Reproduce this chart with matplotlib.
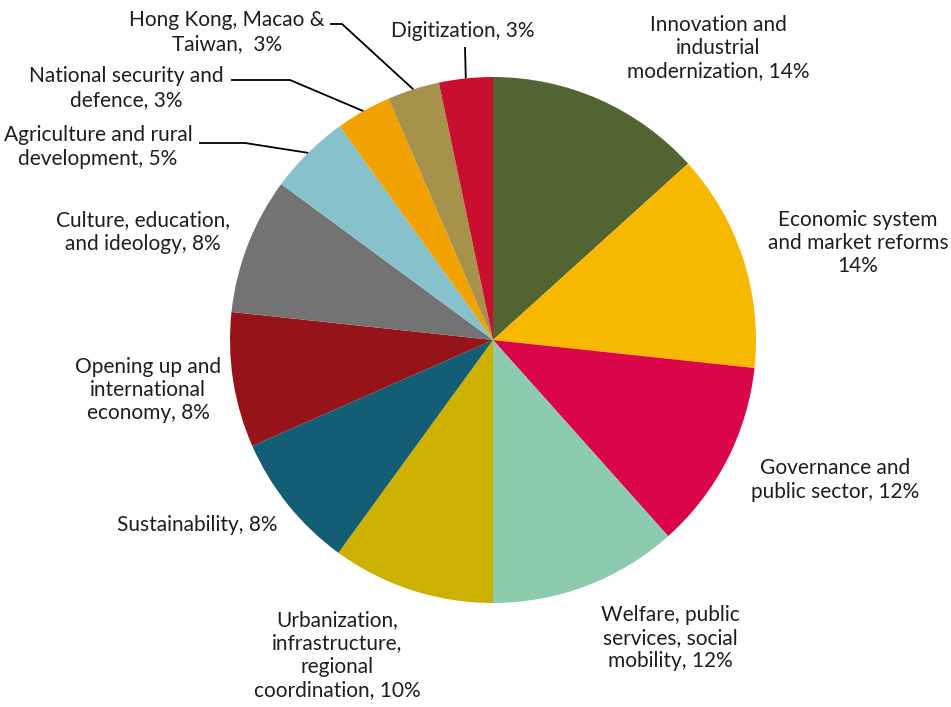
import numpy as np
import matplotlib
matplotlib.use('Agg')
import matplotlib.pyplot as plt

# shares (clockwise from 12 o'clock)
shares = [13.3, 13.4, 11.7, 11.6, 10.0, 8.4, 8.3, 8.4, 5.0, 3.4, 3.2, 3.3]
labels = ['Innovation and\nindustrial\nmodernization, 14%',
          'Economic system\nand market reforms\n14%',
          'Governance and\npublic sector, 12%',
          'Welfare, public\nservices, social\nmobility, 12%',
          'Urbanization,\ninfrastructure,\nregional\ncoordination, 10%',
          'Sustainability, 8%',
          'Opening up and\ninternational\neconomy, 8%',
          'Culture, education,\nand ideology, 8%',
          'Agriculture and rural\ndevelopment, 5%',
          'National security and\ndefence, 3%',
          'Hong Kong, Macao &\nTaiwan,  3%',
          'Digitization, 3%']
colors = ['#536433', '#F6B900', '#DA0649', '#8DCBAF', '#CDB100', '#135E75',
          '#961419', '#737373', '#86C1CC', '#F1A200', '#A6924B', '#C8102E']

W, H = 951, 707
fig = plt.figure(figsize=(W / 100, H / 100), dpi=100)
ax = fig.add_axes([0, 0, 1, 1])

cx, cy, R = 493, H - 340, 263
wedges, _ = ax.pie(shares, colors=colors, startangle=90, counterclock=False,
                   center=(cx, cy), radius=R, frame=True,
                   wedgeprops=dict(linewidth=0))
ax.set_xlim(0, W)
ax.set_ylim(0, H)
ax.set_aspect('equal')
ax.axis('off')

# label centres (pixels from top-left)
label_pos = [(718, 48), (858, 243), (835, 480), (670, 638), (337, 655),
             (197, 525), (148, 390), (143, 232), (98, 147), (126, 88),
             (227, 32), (463, 31)]
tkw = dict(fontsize=15, family=['Lato', 'DejaVu Sans'], color='#1e1e1e',
           ha='center', va='center', linespacing=1.2)
for lab, (px, py) in zip(labels, label_pos):
    ax.text(px, H - py, lab, **tkw)

# leader lines for the small slices: start, elbow, then to the wedge rim
leaders = {8: [(199, 143), (245, 143)],
           9: [(231, 80), (290, 80)],
           10: [(330, 24), (342, 24)],
           11: [(465, 47), (465, 47)]}
for i, pts in leaders.items():
    w = wedges[i]
    mid = np.deg2rad((w.theta1 + w.theta2) / 2)
    ex, ey = cx + R * np.cos(mid), cy + R * np.sin(mid)
    xs = [p[0] for p in pts] + [ex]
    ys = [H - p[1] for p in pts] + [ey]
    ax.plot(xs, ys, color='black', lw=1.3, solid_capstyle='butt')

fig.savefig('out.png', dpi=100)
